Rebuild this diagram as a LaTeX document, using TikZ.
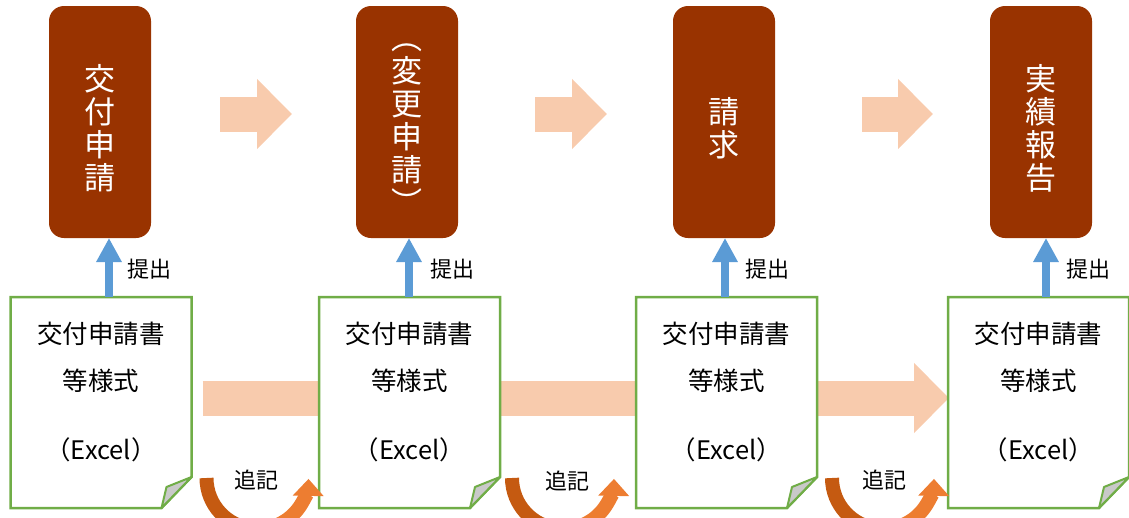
\documentclass[tikz,border=0pt]{standalone}
\usepackage{fontspec}
\setmainfont{Noto Sans CJK JP}
\usetikzlibrary{arrows.meta}
\definecolor{stagebrown}{HTML}{993300}
\definecolor{sheetgreen}{HTML}{70AD47}
\definecolor{foldgrey}{HTML}{C9C9C9}
\definecolor{flowpeach}{HTML}{F8CBAD}
\definecolor{submitblue}{HTML}{5B9BD5}
\definecolor{addondark}{HTML}{C55A11}
\definecolor{addonlight}{HTML}{ED7D31}

\begin{document}
\begin{tikzpicture}[x=1pt,y=-1pt,
	stage/.style={fill=stagebrown,rounded corners=15pt,minimum width=102pt,minimum height=232pt,inner sep=0pt,outer sep=0pt},
	stagetext/.style={text=white,align=center,font=\fontsize{31}{33}\selectfont},
	sheet/.style={minimum width=181pt,minimum height=211pt,inner sep=0pt,outer sep=0pt},
	sheetline/.style={draw=sheetgreen,line width=2.5pt,fill=white},
	fold/.style={draw=sheetgreen,line width=2pt,fill=foldgrey,line join=round},
	sheettext/.style={align=center,font=\fontsize{25.5}{47}\selectfont},
	flow/.style={draw=flowpeach,line width=35pt,-{Triangle[length=35pt,width=68pt]}},
	submit/.style={draw=submitblue,line width=8pt,-{Triangle[length=24pt,width=24pt]}},
	addon/.style={line width=14pt},
	note/.style={font=\fontsize{22}{26}\selectfont}]
		\useasboundingbox (0,0) rectangle (1129,517);
		\clip (0,0) rectangle (1129,517);
		% stages
		\node[stage] (box1) at (100,122) {};
		\node[stage] (box2) at (407,122) {};
		\node[stage] (box3) at (724,122) {};
		\node[stage] (box4) at (1041,122) {};
		\node[stagetext] (title1) at ([yshift=-6pt]box1.center) {交\\付\\申\\請};
		\node[stagetext] (title2) at ([yshift=-7pt]box2.center) {︵\\変\\更\\申\\請\\︶};
		\node[stagetext] (title3) at ([yshift=-6pt]box3.center) {請\\求};
		\node[stagetext] (title4) at ([yshift=-6pt]box4.center) {実\\績\\報\\告};
		\draw[flow] ([shift={(69pt,8pt)}]box1.east) -- ([shift={(-64pt,8pt)}]box2.west);
		\draw[flow] ([shift={(77pt,8pt)}]box2.east) -- ([shift={(-66pt,8pt)}]box3.west);
		\draw[flow] ([shift={(87pt,8pt)}]box3.east) -- ([shift={(-57pt,8pt)}]box4.west);
		% sheets
		\node[sheet] (doc1) at (101,402.5) {};
		\node[sheet] (doc2) at (409.5,402.5) {};
		\node[sheet] (doc3) at (726.5,402.5) {};
		\node[sheet] (doc4) at (1038.5,402.5) {};
		\draw[flow] ([shift={(11pt,4.5pt)}]doc1.east) -- ([shift={(1pt,4.5pt)}]doc4.west);
		\draw[sheetline] (doc1.north west) -- (doc1.north east) -- ([yshift=31pt]doc1.south east) -- ([xshift=-30pt]doc1.south east) -- (doc1.south west) -- cycle;
		\draw[sheetline] (doc2.north west) -- (doc2.north east) -- ([yshift=31pt]doc2.south east) -- ([xshift=-30pt]doc2.south east) -- (doc2.south west) -- cycle;
		\draw[sheetline] (doc3.north west) -- (doc3.north east) -- ([yshift=31pt]doc3.south east) -- ([xshift=-30pt]doc3.south east) -- (doc3.south west) -- cycle;
		\draw[sheetline] (doc4.north west) -- (doc4.north east) -- ([yshift=31pt]doc4.south east) -- ([xshift=-30pt]doc4.south east) -- (doc4.south west) -- cycle;
		\draw[fold] ([yshift=31pt]doc1.south east) -- ([shift={(-25pt,21pt)}]doc1.south east) -- ([xshift=-30pt]doc1.south east) -- cycle;
		\draw[fold] ([yshift=31pt]doc2.south east) -- ([shift={(-25pt,21pt)}]doc2.south east) -- ([xshift=-30pt]doc2.south east) -- cycle;
		\draw[fold] ([yshift=31pt]doc3.south east) -- ([shift={(-25pt,21pt)}]doc3.south east) -- ([xshift=-30pt]doc3.south east) -- cycle;
		\draw[fold] ([yshift=31pt]doc4.south east) -- ([shift={(-25pt,21pt)}]doc4.south east) -- ([xshift=-30pt]doc4.south east) -- cycle;
		\node[sheettext] (form1) at ([yshift=11pt]doc1.center) {交付申請書\\等様式\\[22pt]（Excel）};
		\node[sheettext] (form2) at ([yshift=11pt]doc2.center) {交付申請書\\等様式\\[22pt]（Excel）};
		\node[sheettext] (form3) at ([yshift=11pt]doc3.center) {交付申請書\\等様式\\[22pt]（Excel）};
		\node[sheettext] (form4) at ([yshift=11pt]doc4.center) {交付申請書\\等様式\\[22pt]（Excel）};
		% submit arrows
		\draw[submit] ([xshift=8pt]doc1.north) -- ([xshift=8pt]doc1.north |- box1.south);
		\draw[submit] ([xshift=-0.5pt]doc2.north) -- ([xshift=-0.5pt]doc2.north |- box2.south);
		\draw[submit] ([xshift=-1.5pt]doc3.north) -- ([xshift=-1.5pt]doc3.north |- box3.south);
		\draw[submit] ([xshift=7.5pt]doc4.north) -- ([xshift=7.5pt]doc4.north |- box4.south);
		\node[note,anchor=west] (sub1) at (124,269) {提出};
		\node[note,anchor=west] (sub2) at (427,269) {提出};
		\node[note,anchor=west] (sub3) at (742,269) {提出};
		\node[note,anchor=west] (sub4) at (1063,269) {提出};
		% addition loops
		\draw[addon,addondark] ([shift={(15pt,30pt)}]doc1.south east) arc[start angle=180,end angle=95,radius=51] coordinate (mid1);
		\draw[addon,addonlight,-{Triangle[length=17pt,width=30pt]}] (mid1) arc[start angle=95,end angle=1,radius=51];
		\draw[addon,addondark] ([shift={(12pt,30pt)}]doc2.south east) arc[start angle=180,end angle=95,radius=51] coordinate (mid2);
		\draw[addon,addonlight,-{Triangle[length=17pt,width=30pt]}] (mid2) arc[start angle=95,end angle=1,radius=51];
		\draw[addon,addondark] ([shift={(15pt,30pt)}]doc3.south east) arc[start angle=180,end angle=95,radius=51] coordinate (mid3);
		\draw[addon,addonlight,-{Triangle[length=17pt,width=30pt]}] (mid3) arc[start angle=95,end angle=1,radius=51];
		\node[note] (add1) at (256,480) {追記};
		\node[note] (add2) at (567,481) {追記};
		\node[note] (add3) at (884,480) {追記};
	\end{tikzpicture}
\end{document}
